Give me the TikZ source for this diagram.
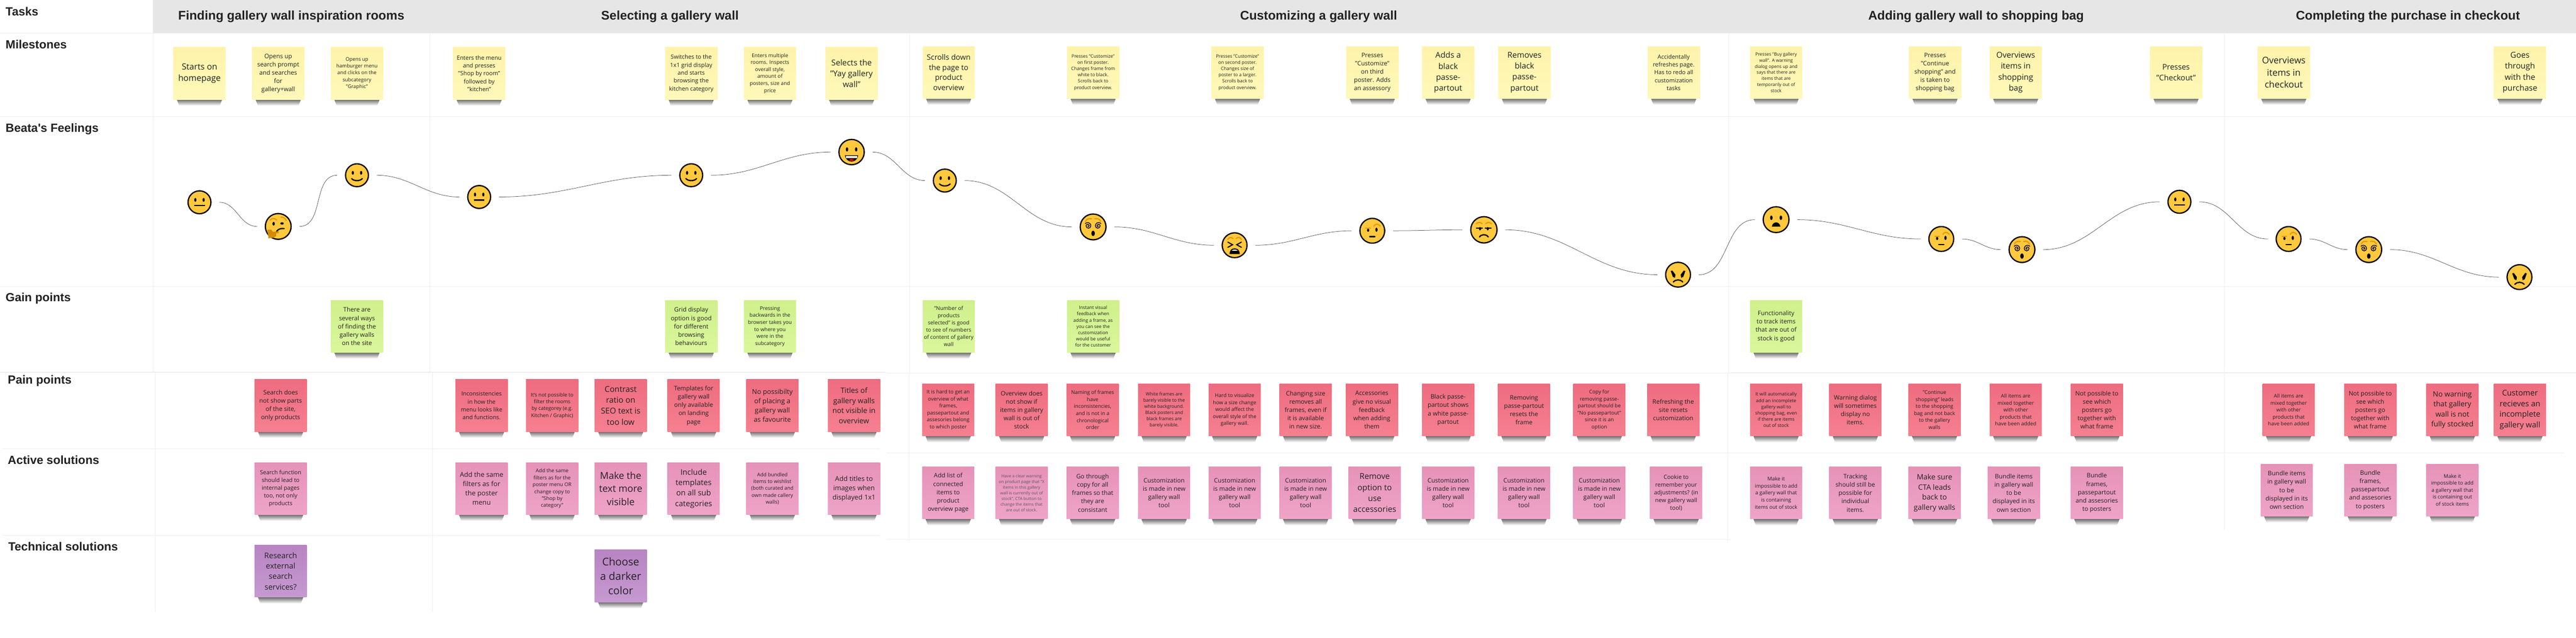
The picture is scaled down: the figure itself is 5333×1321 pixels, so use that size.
\documentclass[tikz,border=0pt]{standalone}
\usepackage{fontspec}
\setmainfont{Open Sans}
\newfontfamily\headfont{Liberation Sans}
\usepackage{xcolor}

\definecolor{headfill}{HTML}{E6E6E6}
\definecolor{gridgray}{HTML}{EEEEEE}
\definecolor{inkdark}{HTML}{222222}
\definecolor{curvegray}{HTML}{555555}
\definecolor{facefill}{HTML}{FFC83D}
\definecolor{browfill}{HTML}{E39A0B}
\definecolor{handfill}{HTML}{D38A05}
\definecolor{yellowtop}{HTML}{FFF3AB}
\definecolor{yellowlow}{HTML}{FFF8B8}
\definecolor{greentop}{HTML}{CFF08C}
\definecolor{greenlow}{HTML}{DAF79B}
\definecolor{redtop}{HTML}{EE6C7F}
\definecolor{redlow}{HTML}{F58090}
\definecolor{pinktop}{HTML}{E692B8}
\definecolor{pinklow}{HTML}{EEA4C7}
\definecolor{purpletop}{HTML}{B884C3}
\definecolor{purplelow}{HTML}{C699D1}

\tikzset{
    gridline/.style={draw=gridgray, line width=1pt},
    gridheavy/.style={draw=gridgray, line width=1.6pt},
    rowlabel/.style={anchor=west, inner sep=0pt, text=inkdark, font=\headfont\bfseries\fontsize{24.5}{28}\selectfont},
    tasklabel/.style={inner sep=0pt, text=inkdark, font=\headfont\bfseries\fontsize{26}{30}\selectfont},
    stickybase/.style={minimum width=108pt, minimum height=108pt, inner sep=0pt, align=center, text=inkdark},
    stickyYellow/.style={stickybase, top color=yellowtop, bottom color=yellowlow},
    stickyGreen/.style={stickybase, top color=greentop, bottom color=greenlow},
    stickyRed/.style={stickybase, top color=redtop, bottom color=redlow},
    stickyPink/.style={stickybase, top color=pinktop, bottom color=pinklow},
    stickyPurple/.style={stickybase, top color=purpletop, bottom color=purplelow},
    stickyShadow/.style={top color=black!58, middle color=black!12, bottom color=white, draw=none},
    facecircle/.style={circle, draw=black, line width=2.6pt, fill=facefill, inner sep=0pt},
    feelcurve/.style={draw=curvegray, line width=0.8pt},
    browline/.style={draw=browfill, line width=2.4pt, line cap=round},
    moodline/.style={draw=black, line width=2.6pt, line cap=round},
}

% One row of sticky notes: style, name prefix, list of x/y/font size/text
\newcommand{\stickyrow}[3]{%
    \foreach \cx/\cy/\fs/\txt [count=\i] in {#3} {
        \pgfmathsetmacro\ls{\fs*1.36}
        \shade[stickyShadow, shift={(\cx,\cy)}] (-47,54) -- (47,54) -- (42,67) -- (-42,67) -- cycle;
        \node[#1, font=\fontsize{\fs}{\ls}\selectfont] (#2\i) at (\cx,\cy) {\txt};
    }%
}

% Parts of the faces, drawn for a face of 50 across, centre at the origin
\newcommand{\moodEyes}{\fill (-8.6,-5) ellipse (2.3 and 4); \fill (8.6,-5) ellipse (2.3 and 4);}
\newcommand{\moodNeutral}{\moodEyes \draw[moodline, line cap=butt] (-11,6.5) -- (11,6.5);}
\newcommand{\moodSmile}{\moodEyes \draw[moodline] (-11,7) .. controls (-6,12.5) and (6,12.5) .. (11,7);}
\newcommand{\moodLaugh}{\moodEyes
    \fill (-12.5,6) -- (12.5,6) .. controls (12,13) and (6,18) .. (0,18) .. controls (-6,18) and (-12,13) .. (-12.5,6) -- cycle;
    \fill[white] (-10.5,7.6) rectangle (10.5,11.2);
    \fill[red!85!black] (0,15) ellipse (4 and 2.4);}
\newcommand{\moodDizzy}{
    \foreach \sgn in {-1,1} {
        \begin{scope}[xscale=\sgn]
            \draw[black, line width=1.5pt] (10,-2) arc[start angle=0, end angle=180, radius=1.4] arc[start angle=180, end angle=360, radius=2.9] arc[start angle=0, end angle=180, radius=4.4] arc[start angle=180, end angle=320, radius=6];
            \draw[browline] (14,-10) .. controls (12,-15) and (8,-16) .. (3,-15);
        \end{scope}
    }
    \fill (0,12) ellipse (3.3 and 5);}
\newcommand{\moodTired}{
    \draw[moodline, line width=2.2pt] (-13,-6) -- (-4,-1) -- (-13,4);
    \draw[moodline, line width=2.2pt] (13,-6) -- (4,-1) -- (13,4);
    \draw[browline] (-13,-11) .. controls (-10,-16) and (-7,-16) .. (-3,-13);
    \draw[browline] (13,-11) .. controls (10,-16) and (7,-16) .. (3,-13);
    \fill (-10,17) -- (10,17) .. controls (9,9) and (6,6) .. (0,6) .. controls (-6,6) and (-9,9) .. (-10,17) -- cycle;
    \fill[white] (-5.6,10.4) .. controls (-3,7.4) and (3,7.4) .. (5.6,10.4) -- cycle;}
\newcommand{\moodBrow}{
    \draw[browline, line width=3pt, line cap=butt] (-13,-5) -- (-3,-5);
    \fill (-8,-1) ellipse (2.2 and 3);
    \fill (8,-2) ellipse (2.2 and 4);
    \draw[browline] (3,-9) .. controls (6,-14) and (11,-14) .. (15,-9);
    \draw[moodline] (-5,11) -- (5,11);}
\newcommand{\moodGrumpy}{
    \draw[browline] (-14,-11) .. controls (-11,-14) and (-6,-14) .. (-3,-11);
    \draw[browline] (14,-11) .. controls (11,-14) and (6,-14) .. (3,-11);
    \draw[moodline, line cap=butt] (-14,-3) -- (-2,-3);
    \draw[moodline, line cap=butt] (14,-3) -- (2,-3);
    \fill (-7,-2) ellipse (2 and 3);
    \fill (7,-2) ellipse (2 and 3);
    \draw[moodline] (-8,13) .. controls (-4,7.5) and (4,7.5) .. (8,13);}
\newcommand{\moodAngry}{
    \fill (-14,-7) -- (-11,-8) -- (-5,0) -- (-6,6) -- (-10,4) -- cycle;
    \fill (14,-7) -- (11,-8) -- (5,0) -- (6,6) -- (10,4) -- cycle;
    \draw[moodline] (-9,14) .. controls (-4,8.5) and (4,8.5) .. (9,14);}
\newcommand{\moodFrown}{
    \fill (-8.8,-3.5) ellipse (2.4 and 4.2);
    \fill (8.8,-3.5) ellipse (2.4 and 4.2);
    \fill (-8,13) -- (8,13) .. controls (7,7) and (3,5) .. (0,5) .. controls (-3,5) and (-7,7) .. (-8,13) -- cycle;}
\newcommand{\moodThink}{
    \draw[browline] (-15,-12) .. controls (-11,-16) and (-6,-15) .. (-3,-12);
    \draw[browline] (5,-17) .. controls (9,-18) and (13,-15) .. (15,-11);
    \fill (-8.5,-5) ellipse (2.2 and 3.4);
    \fill (7,-5.5) ellipse (3.2 and 2.2);
    \draw[moodline] (-3,9) .. controls (0,5) and (5,3) .. (11,4);
    \fill[handfill] (-20,6) -- (-13,6) -- (-10,10) -- (1,9) -- (1,12) -- (-4,13) -- (-4,18) -- (-10,21) -- (-18,22) -- cycle;}

\begin{document}
\begin{tikzpicture}[x=1pt, y=-1pt]
    \useasboundingbox (0,0) rectangle (5333,1321);
    \fill[white] (0,0) rectangle (5333,1321);

    % Header band and its titles
    \fill[headfill] (317,0) rectangle (5333,69);
    \foreach \hx/\htxt [count=\i] in {603/Finding gallery wall inspiration rooms, 1387/Selecting a gallery wall, 2730/Customizing a gallery wall, 4091/Adding gallery wall to shopping bag, 4985/Completing the purchase in checkout} {
        \node[tasklabel] (task\i) at (\hx,34) {\htxt};
    }

    % Grid of the upper rows
    \foreach \ly in {69,242,593} {
        \draw[gridline] (0,\ly) -- (5333,\ly);
    }
    \foreach \lx in {317,890,1883,3579,4605} {
        \draw[gridline] (\lx,69) -- (\lx,772);
    }

    % Grid of the lower rows, three panels which do not quite line up
    \draw[gridheavy] (0,771) -- (1835,771);
    \draw[gridheavy] (1835,773) -- (3583,773);
    \draw[gridheavy] (3583,772) -- (5333,772);
    \draw[gridline] (4,929) -- (1821,929);
    \draw[gridline] (4,1109) -- (1821,1109);
    \draw[gridheavy] (1835,938) -- (5308,938);
    \draw[gridheavy] (1835,1117) -- (3583,1117);
    \foreach \lx in {322,895} {
        \draw[gridline] (\lx,772) -- (\lx,1267);
    }
    \draw[gridline] (1882,772) -- (1882,1123);
    \draw[gridline] (3577,772) -- (3577,1123);
    \draw[gridline] (4605,772) -- (4605,1097);

    % Row titles on the left
    \foreach \rx/\ry/\rtxt [count=\i] in {11.5/24/Tasks, 11.5/92/Milestones, 11.5/267/Beata's Feelings, 11.5/618/Gain points, 16/789/Pain points, 16/953/Active solutions, 17/1132/Technical solutions} {
        \node[rowlabel] (row\i) at (\rx,\ry) {\rtxt};
    }

    % Milestones
    \stickyrow{stickyYellow}{mile}{
        413/152/17.6/{Starts on\\homepage},
        576/152/12.7/{Opens up\\search prompt\\and searches\\for\\gallery+wall},
        739/152/10.4/{Opens up\\hamburger menu\\and clicks on the\\subcategory\\"Graphic"},
        992/152/12/{Enters the menu\\and presses\\"Shop by room"\\followed by\\"kitchen"},
        1431/152/12/{Switches to the\\1x1 grid display\\and starts\\browsing the\\kitchen category},
        1594/152/10.7/{Enters multiple\\rooms. Inspects\\overall style,\\amount of\\posters, size and\\price},
        1763/152/16.7/{Selects the\\"Yay gallery\\wall"},
        1964/150/15.5/{Scrolls down\\the page to\\product\\overview},
        2263/150/9.5/{Presses "Customize"\\on first poster.\\Changes frame from\\white to black.\\Scrolls back to\\product overview.},
        2562/150/9.5/{Presses "Customize"\\on second poster.\\Changes size of\\poster to a larger.\\Scrolls back to\\product overview.},
        2841/150/12.7/{Presses\\"Customize"\\on third\\poster. Adds\\an assessory},
        2998/150/16.7/{Adds a\\black\\passe-\\partout},
        3156/150/16.7/{Removes\\black\\passe-\\partout},
        3465/150/12/{Accidentally\\refreshes page.\\Has to redo all\\customization\\tasks},
        3677/150/9.3/{Presses "Buy gallery\\wall". A warning\\dialog opens up and\\says that there are\\items that are\\temporarily out of\\stock},
        4006/150/12.7/{Presses\\"Continue\\shopping" and\\is taken to\\shopping bag},
        4173/150/16.7/{Overviews\\items in\\shopping\\bag},
        4505/150/16/{Presses\\"Checkout"},
        4728/150/18.8/{Overviews\\items in\\checkout},
        5217/150/16.7/{Goes\\through\\with the\\purchase}}

    % Beata's feelings, faces first and the curves between them after
    \foreach \fx/\fy/\fd/\fkind [count=\i] in {413/419/50/Neutral, 576/469/56/Think, 739/363/50/Smile, 992/408/50/Neutral, 1431/363/50/Smile, 1763/315/55/Laugh, 1956/374/50/Smile, 2263/470/56/Dizzy, 2556/508/54/Tired, 2841/478/54/Brow, 3072/476/57/Grumpy, 3474/569/54/Angry, 3677/455/56/Frown, 4019/495/54/Brow, 4186/517/56/Dizzy, 4512/418/50/Neutral, 4738/495/54/Brow, 4904/517/56/Dizzy, 5216/574/54/Angry} {
        \node[facecircle, minimum size=\fd pt-2.6pt] (feel\i) at (\fx,\fy) {};
        \begin{scope}[shift={(feel\i)}, scale=\fd/50]
            \csname mood\fkind\endcsname
        \end{scope}
    }
    \foreach \a [remember=\a as \b (initially 1)] in {2,...,19} {
        \draw[feelcurve] ([xshift=16pt]feel\b.east) to[out=0, in=180] ([xshift=-16pt]feel\a.west);
    }

    % Gain points
    \stickyrow{stickyGreen}{gain}{
        739/676/12.7/{There are\\several ways\\of finding the\\gallery walls\\on the site},
        1431/676/12.7/{Grid display\\option is good\\for different\\browsing\\behaviours},
        1594/676/10.7/{Pressing\\backwards in the\\browser takes you\\to where you\\were in the\\subcategory},
        1964/676/11/{"Number of\\products\\selected" is good\\to see of numbers\\of content of gallery\\wall},
        2263/676/9.5/{Instant visual\\feedback when\\adding a frame, as\\you can see the\\customization\\would be useful\\for the customer},
        3677/676/12.7/{Functionality\\to track items\\that are out of\\stock is good}}

    % Pain points
    \stickyrow{stickyRed}{pain}{
        581/840/12.7/{Search does\\not show parts\\of the site,\\only products},
        997/840/11.8/{Inconsistencies\\in how the\\menu looks like\\and functions.},
        1143/840/10.5/{It's not possible to\\filter the rooms\\by categorey (e.g.\\Kitchen / Graphic)},
        1285/840/16.7/{Contrast\\ratio on\\SEO text is\\too low},
        1436/840/12.7/{Templates for\\gallery wall\\only available\\on landing\\page},
        1599/840/14/{No possibilty\\of placing a\\gallery wall\\as favourite},
        1768/840/15.2/{Titles of\\gallery walls\\not visible in\\overview},
        1963/849/10.6/{It is hard to get an\\overview of what\\frames,\\passepartout and\\assesories belong\\to which poster},
        2115/849/12.7/{Overview does\\not show if\\items in gallery\\wall is out of\\stock},
        2262/849/10.6/{Naming of frames\\have\\inconsistencies,\\and is not in a\\chronological\\order},
        2410/849/9.5/{White frames are\\barely visible to the\\white background.\\Black posters and\\black frames are\\barely visible.},
        2556/849/10.6/{Hard to visualize\\how a size change\\would affect the\\overall style of the\\gallery wall.},
        2703/849/12.7/{Changing size\\removes all\\frames, even if\\it is available\\in new size.},
        2840/849/12.7/{Accessories\\give no visual\\feedback\\when adding\\them},
        2998/849/12.7/{Black passe-\\partout shows\\a white passe-\\partout},
        3155/849/12.7/{Removing\\passe-partout\\resets the\\frame},
        3311/849/10.6/{Copy for\\removing passe-\\partout should be\\"No passepartout"\\since it is an\\option},
        3464/849/12.7/{Refreshing the\\site resets\\customization},
        3677/849/9.6/{It will automatically\\add an incomplete\\gallery wall to\\shopping bag, even\\if there are items\\out of stock},
        3841/849/12.7/{Warning dialog\\will sometimes\\display no\\items.},
        4005/849/10.6/{"Continue\\shopping" leads\\to the shopping\\bag and not back\\to the gallery\\walls},
        4173/849/10.6/{All items are\\mixed together\\with other\\products that\\have been added},
        4341/849/12.7/{Not possible to\\see which\\posters go\\together with\\what frame},
        4738/849/10.6/{All items are\\mixed together\\with other\\products that\\have been added},
        4907/849/12.7/{Not possible to\\see which\\posters go\\together with\\what frame},
        5077/849/15/{No warning\\that gallery\\wall is not\\fully stocked},
        5217/849/16.2/{Customer\\recieves an\\incomplete\\gallery wall}}

    % Active solutions
    \stickyrow{stickyPink}{active}{
        581/1012/11.8/{Search function\\should lead to\\internal pages\\too, not only\\products},
        997/1012/14/{Add the same\\filters as for\\the poster\\menu},
        1143/1012/10.5/{Add the same\\filters as for the\\poster menu OR\\change copy to\\"Shop by\\category"},
        1285/1012/19.8/{Make the\\text more\\visible},
        1436/1012/16/{Include\\templates\\on all sub\\categories},
        1599/1012/10.5/{Add bundled\\items to wishlist\\(both curated and\\own made callery\\walls)},
        1768/1012/14/{Add titles to\\images when\\displayed 1x1},
        1963/1021/12.7/{Add list of\\connected\\items to\\product\\overview page},
        2115/1021/8.6/{\textcolor{black!65}{Have a clear warning}\\\textcolor{black!65}{on product page that "X}\\\textcolor{black!65}{items in this gallery}\\\textcolor{black!65}{wall is currently out of}\\\textcolor{black!65}{stock", CTA button to}\\\textcolor{black!65}{change the items that}\\\textcolor{black!65}{are out of stock.}},
        2262/1021/12.7/{Go through\\copy for all\\frames so that\\they are\\consistant},
        2410/1021/12.7/{Customization\\is made in new\\gallery wall\\tool},
        2556/1021/12.7/{Customization\\is made in new\\gallery wall\\tool},
        2703/1021/12.7/{Customization\\is made in new\\gallery wall\\tool},
        2846/1021/16.7/{Remove\\option to\\use\\accessories},
        2998/1021/12.7/{Customization\\is made in new\\gallery wall\\tool},
        3155/1021/12.7/{Customization\\is made in new\\gallery wall\\tool},
        3311/1021/12.7/{Customization\\is made in new\\gallery wall\\tool},
        3470/1021/11.8/{Cookie to\\remember your\\adjustments? (in\\new gallery wall\\tool)},
        3677/1021/10.6/{Make it\\impossible to add\\a gallery wall that\\is containing\\items out of stock},
        3841/1021/12.7/{Tracking\\should still be\\possible for\\individual\\items.},
        4005/1021/15.2/{Make sure\\CTA leads\\back to\\gallery walls},
        4169/1021/12.7/{Bundle items\\in gallery wall\\to be\\displayed in its\\own section},
        4341/1021/12.7/{Bundle\\frames,\\passepartout\\and assesories\\to posters},
        4734/1015/12.7/{Bundle items\\in gallery wall\\to be\\displayed in its\\own section},
        4907/1015/12.7/{Bundle\\frames,\\passepartout\\and assesories\\to posters},
        5077/1015/10.6/{Make it\\impossible to add\\a gallery wall that\\is containing out\\of stock items}}

    % Technical solutions
    \stickyrow{stickyPurple}{tech}{
        581/1183/16/{Research\\external\\search\\services?},
        1285/1193/22/{Choose\\a darker\\color}}
\end{tikzpicture}
\end{document}
